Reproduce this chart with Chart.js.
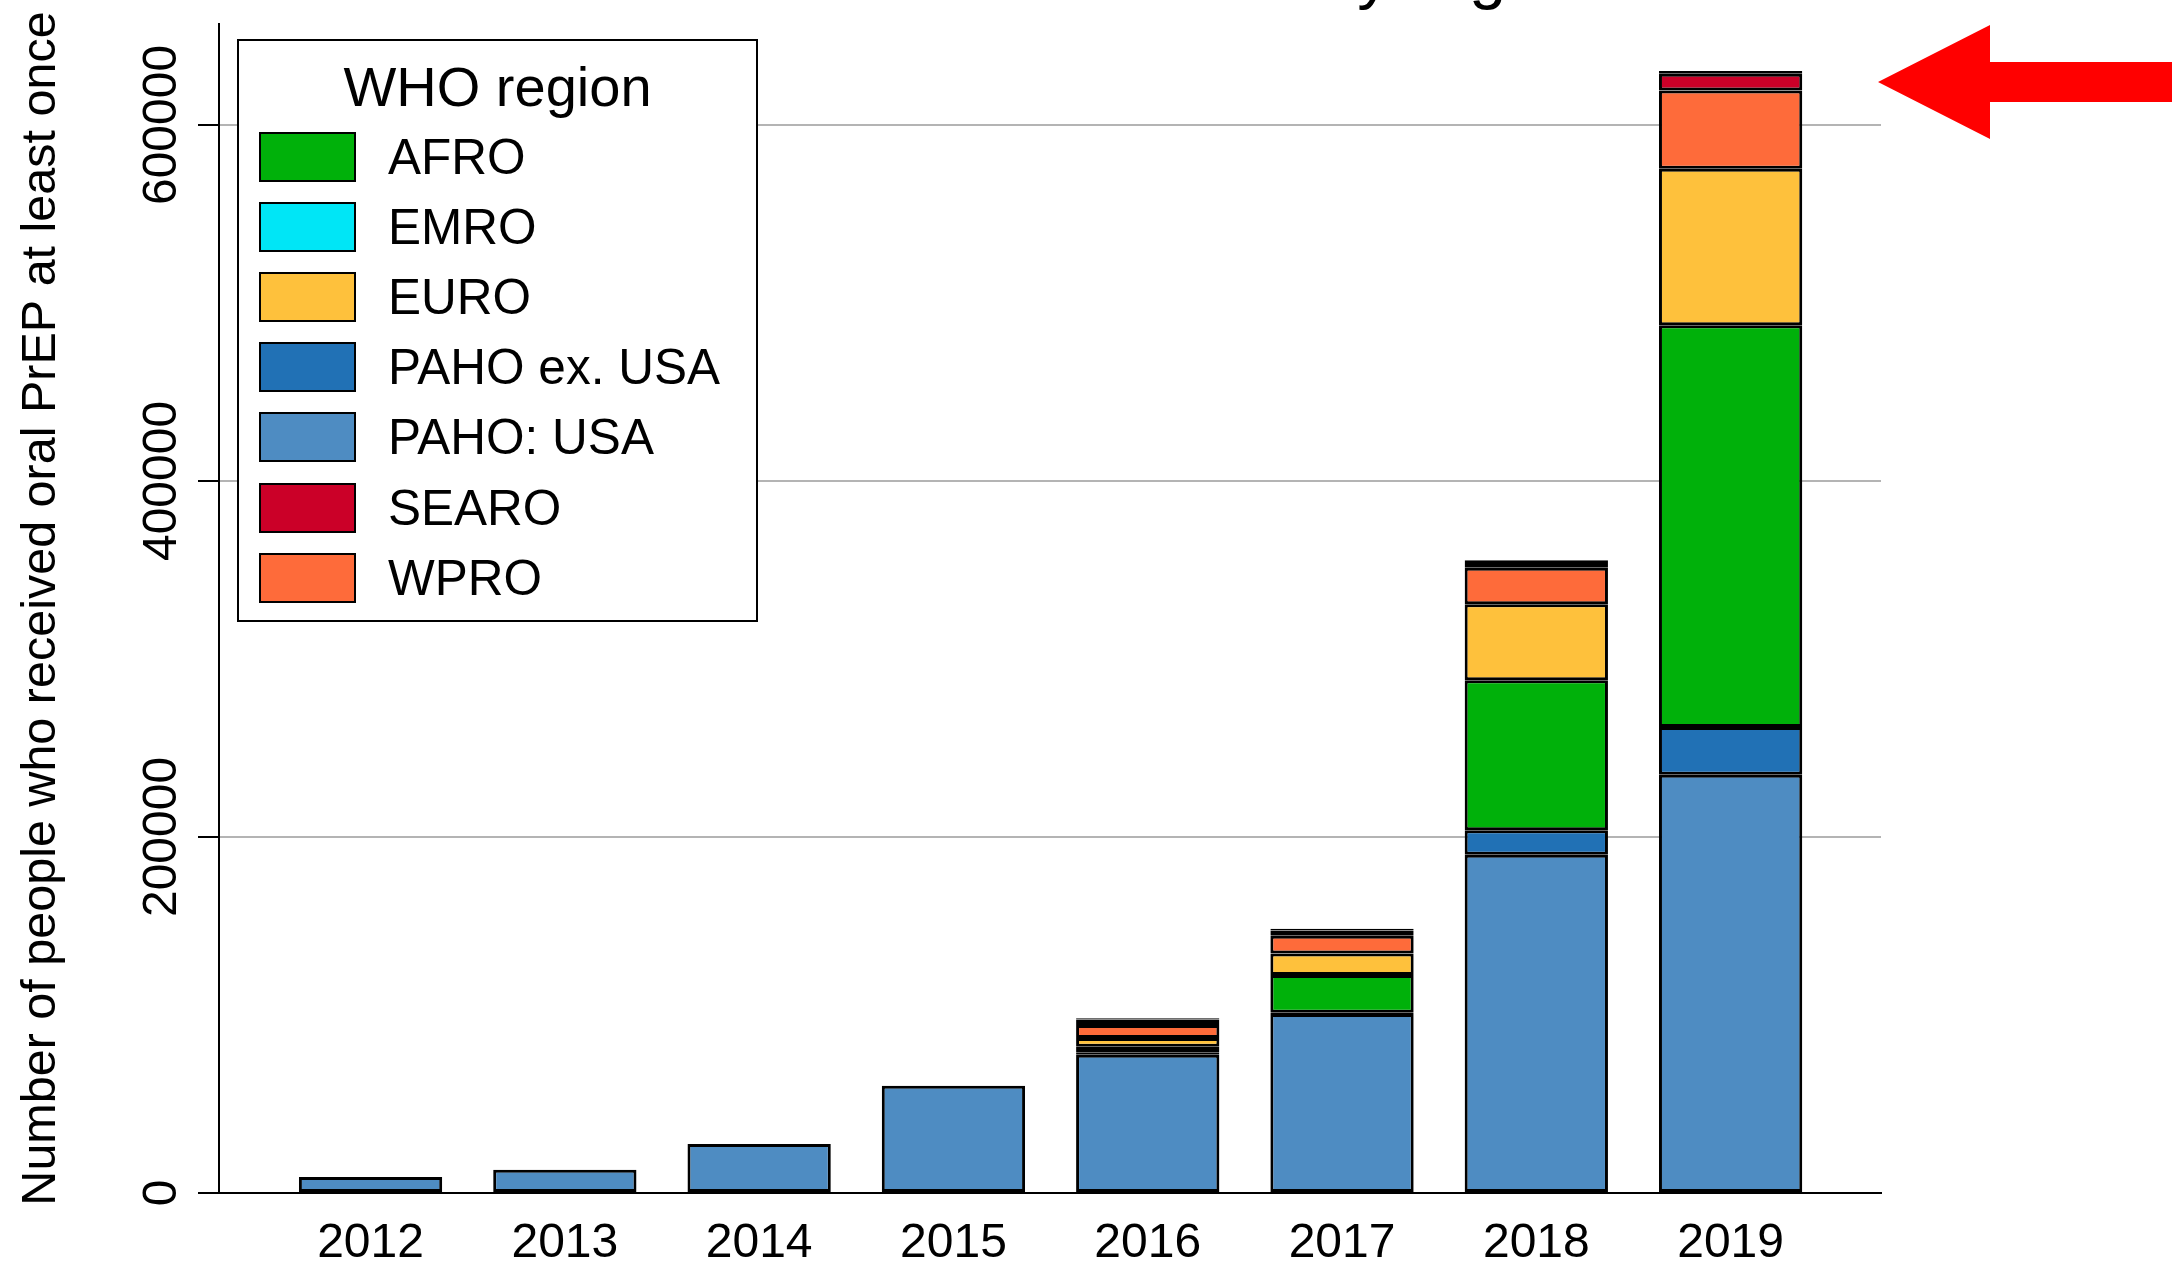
<!DOCTYPE html>
<html>
<head>
<meta charset="utf-8">
<title>Oral PrEP users by WHO region</title>
<script src="https://cdn.jsdelivr.net/npm/chart.js@4.4.1/dist/chart.umd.min.js"></script>
<style>
  html, body { margin: 0; padding: 0; background: #fff; }
  #wrap { position: relative; width: 2172px; height: 1264px; overflow: hidden; }
  #chart { position: absolute; left: 0; top: 0; }
  #legend {
    position: absolute; left: 237px; top: 39px; width: 517px; height: 579px;
    border: 2px solid #000; background: #fff;
    font-family: 'Liberation Sans', Arial, sans-serif; color: #000;
  }
  #legend .ttl { position: absolute; left: 0; right: 0; top: 18px; text-align: center; font-size: 56px; line-height: 56px; }
  #legend .item { position: absolute; left: 20px; height: 50px; display: flex; align-items: center; }
  #legend .sw { width: 93px; height: 46px; border: 2px solid #000; }
  #legend .lab { margin-left: 32px; font-size: 49.5px; line-height: 50px; }
</style>
</head>
<body>
<div id="wrap">
  <canvas id="chart" width="2172" height="1264"></canvas>
  <div id="legend"></div>
</div>
<script>
const FONT = "'Liberation Sans', Arial, sans-serif";

const years = [2012, 2013, 2014, 2015, 2016, 2017, 2018, 2019];
const yTicks = [0, 200000, 400000, 600000];
const yTitle = 'Number of people who received oral PrEP at least once';
const mainTitle = 'Number of PrEP users by region';
const legendTitle = 'WHO region';

// legend order (alphabetical) and fills
const regionNames = ['AFRO', 'EMRO', 'EURO', 'PAHO ex. USA', 'PAHO: USA', 'SEARO', 'WPRO'];
const regionColors = ['#00b10a', '#00e6f6', '#fec13c', '#2171b5', '#4e8cc2', '#cb0028', '#fe6b3a'];

// values per year, 2012..2019 (null = not shown)
const pahoUsa   = [9000, 13000, 27500, 60200, 77600, 100500, 190000, 235000];
const pahoExUsa = [null, null, null, null, 1400, 800, 13800, 26800];
const afro      = [null, null, null, null, 3100, 21200, 84300, 225700];
const euro      = [null, null, null, null, 5000, 12000, 42600, 87900];
const wpro      = [null, null, null, null, 7300, 10000, 20600, 44000];
const searo     = [null, null, null, null, 3000, 3000, 3200, 9400];
const emro      = [null, null, null, null, 800, 900, 900, 1500];

// bottom -> top
const stackOrder = [
    ['PAHO: USA', pahoUsa],
    ['PAHO ex. USA', pahoExUsa],
    ['AFRO', afro],
    ['EURO', euro],
    ['WPRO', wpro],
    ['SEARO', searo],
    ['EMRO', emro]
];

function colorOf(name) {
    return regionColors[regionNames.indexOf(name)];
}

function buildLegend() {
    const box = document.getElementById('legend');
    const t = document.createElement('div');
    t.className = 'ttl';
    t.textContent = legendTitle;
    box.appendChild(t);
    regionNames.forEach((name, i) => {
        const row = document.createElement('div');
        row.className = 'item';
        row.style.top = (90.5 + i * 70.2) + 'px';
        const sw = document.createElement('div');
        sw.className = 'sw';
        sw.style.background = regionColors[i];
        const lab = document.createElement('span');
        lab.className = 'lab';
        lab.textContent = name;
        row.appendChild(sw);
        row.appendChild(lab);
        box.appendChild(row);
    });
}

const decor = {
    id: 'decor',
    afterDraw(chart) {
        const ctx = chart.ctx;
        const ys = chart.scales.y;

        // rotated y tick labels
        ctx.save();
        ctx.fillStyle = '#000';
        ctx.font = '48px ' + FONT;
        ctx.textAlign = 'center';
        ctx.textBaseline = 'middle';
        ys.ticks.forEach(t => {
            ctx.save();
            ctx.translate(163, ys.getPixelForValue(t.value));
            ctx.rotate(-Math.PI / 2);
            ctx.fillText(String(t.value), 0, 0);
            ctx.restore();
        });
        ctx.restore();

        // title, mostly above the visible area
        ctx.save();
        ctx.fillStyle = '#000';
        ctx.font = '67px ' + FONT;
        ctx.textBaseline = 'alphabetic';
        const cut = mainTitle.lastIndexOf('by region');
        const pre = ctx.measureText(mainTitle.slice(0, cut)).width;
        ctx.fillText(mainTitle, 1320 - pre, -4);
        ctx.restore();

        // red arrow pointing at the 2019 bar
        ctx.save();
        ctx.fillStyle = '#ff0000';
        ctx.beginPath();
        ctx.moveTo(1878, 82);
        ctx.lineTo(1990, 25);
        ctx.lineTo(1990, 62);
        ctx.lineTo(2172, 62);
        ctx.lineTo(2172, 102);
        ctx.lineTo(1990, 102);
        ctx.lineTo(1990, 139);
        ctx.closePath();
        ctx.fill();
        ctx.restore();
    }
};

buildLegend();

new Chart(document.getElementById('chart').getContext('2d'), {
    type: 'bar',
    data: {
        datasets: stackOrder.map(([name, vals]) => ({
            label: name,
            data: years.map((yr, i) => ({ x: yr, y: vals[i] })),
            backgroundColor: colorOf(name),
            borderColor: '#000',
            borderWidth: 3,
            borderSkipped: false,
            barPercentage: 0.7375,
            categoryPercentage: 1
        }))
    },
    options: {
        responsive: false,
        devicePixelRatio: 1,
        animation: false,
        layout: { padding: { left: 0, top: 24, right: 291, bottom: 0 } },
        plugins: {
            legend: { display: false },
            tooltip: { enabled: false }
        },
        scales: {
            x: {
                type: 'linear',
                offset: false,
                min: 2011.22,
                max: 2019.774,
                stacked: true,
                afterBuildTicks: s => { s.ticks = years.map(v => ({ value: v })); },
                afterFit: s => { s.height = 71; },
                grid: { display: false, drawTicks: false, offset: false },
                border: { display: true, color: '#000', width: 2 },
                ticks: {
                    color: '#000',
                    font: { size: 48, family: FONT },
                    padding: 22,
                    maxRotation: 0,
                    autoSkip: false,
                    callback: v => String(v)
                }
            },
            y: {
                min: 0,
                max: 656700,
                stacked: true,
                afterBuildTicks: s => { s.ticks = yTicks.map(v => ({ value: v })); },
                afterFit: s => { s.width = 219; },
                grid: {
                    color: c => (c.tick && c.tick.value === 0 ? '#000' : '#b4b4b4'),
                    lineWidth: 2,
                    tickColor: '#000',
                    tickLength: 21
                },
                border: { color: '#000', width: 2 },
                ticks: { display: false },
                title: {
                    display: true,
                    text: yTitle,
                    color: '#000',
                    font: { size: 48.5, family: FONT },
                    padding: { top: 13, bottom: 0 }
                }
            }
        }
    },
    plugins: [decor]
});
</script>
</body>
</html>
